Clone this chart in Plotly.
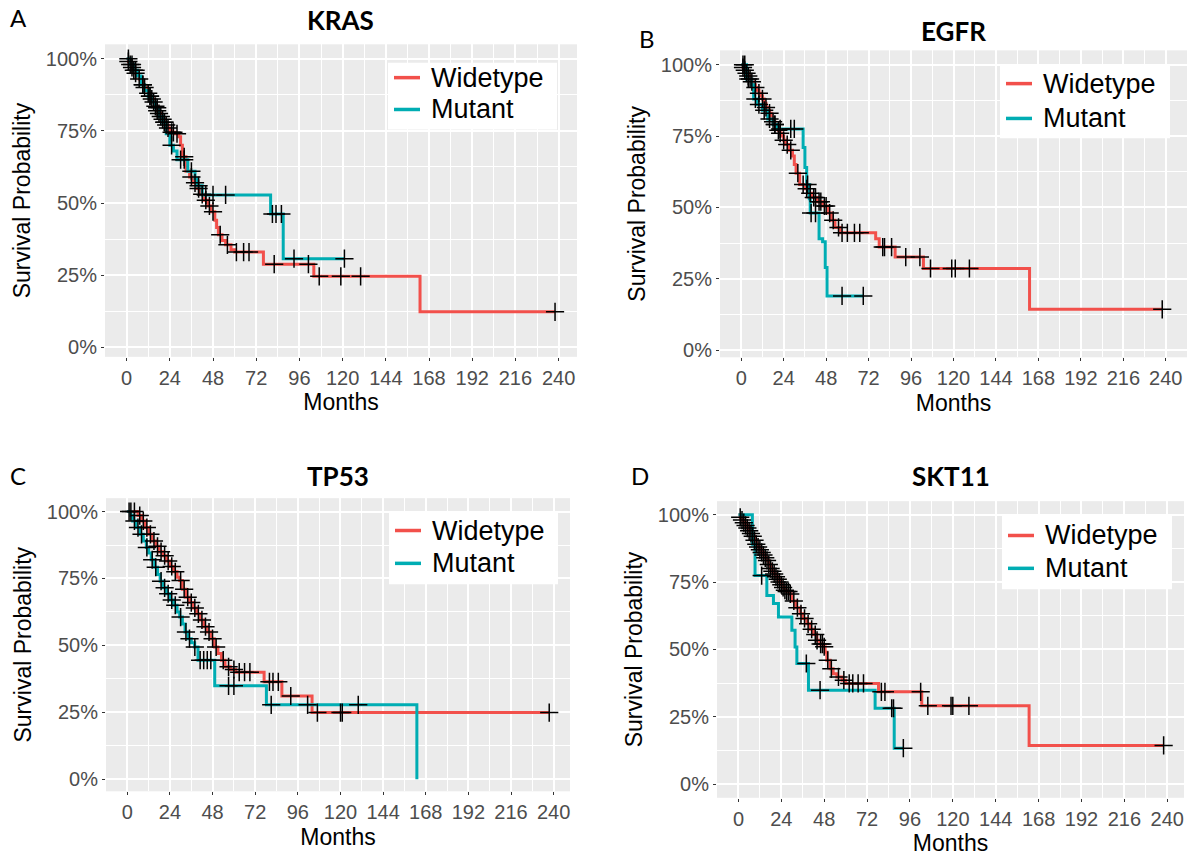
import plotly.graph_objects as go

W, H = 1189, 858

# ---------------- data ----------------
# event times (months) and survival after each event; censor times
kras_wt_t = [1, 2, 3, 4, 5, 6, 7, 8, 9, 10, 11, 12, 13, 14, 15, 16, 17, 18, 19, 20, 21, 22, 23, 24, 25, 27, 29, 30,
             31, 33, 35, 37, 39, 41, 43, 45, 47, 49, 50, 51, 53, 55, 58, 60, 76, 104, 163]
kras_wt_s = [0.99, 0.98, 0.97, 0.96, 0.95, 0.94, 0.93, 0.92, 0.91, 0.90, 0.89, 0.88, 0.87, 0.86, 0.85, 0.835, 0.82,
             0.81, 0.80, 0.79, 0.78, 0.77, 0.76, 0.75, 0.745, 0.74, 0.73, 0.70, 0.66, 0.61, 0.59, 0.57, 0.55, 0.53,
             0.51, 0.49, 0.47, 0.44, 0.415, 0.39, 0.37, 0.355, 0.338, 0.33, 0.288, 0.246, 0.123]
kras_wt_cens = [1, 2, 3, 4, 5, 7, 9, 10, 12, 13, 14, 15, 16, 17, 18, 19, 20, 21, 22, 23, 25, 26, 28, 32, 36, 38, 40,
                42, 44, 46, 48, 52, 56, 61, 65, 68, 82, 101, 107, 119, 130, 238]

kras_mut_t = [2, 4, 6, 8, 10, 12, 14, 16, 18, 20, 22, 24, 26, 28, 34, 38, 39, 42, 80, 87]
kras_mut_s = [0.98, 0.96, 0.94, 0.91, 0.89, 0.87, 0.85, 0.83, 0.80, 0.78, 0.74, 0.70, 0.68, 0.65, 0.61, 0.585, 0.56,
              0.528, 0.462, 0.307]
kras_mut_cens = [1, 3, 5, 9, 13, 17, 21, 25, 30, 32, 36, 40, 44, 48, 55, 81, 83, 86, 93, 121]

egfr_wt_t = [1, 2, 3, 4, 5, 6, 7, 8, 9, 10, 11, 12, 13, 14, 15, 16, 17, 18, 19, 20, 21, 22, 23, 24, 25, 27, 29, 30,
             31, 33, 36, 38, 40, 43, 46, 49, 51, 53, 56, 76, 78, 87, 103, 163]
egfr_wt_s = [0.99, 0.98, 0.97, 0.96, 0.95, 0.94, 0.93, 0.92, 0.91, 0.90, 0.89, 0.88, 0.865, 0.85, 0.84, 0.83, 0.815,
             0.80, 0.79, 0.78, 0.77, 0.76, 0.75, 0.735, 0.72, 0.70, 0.68, 0.65, 0.62, 0.58, 0.565, 0.55, 0.535, 0.52,
             0.505, 0.48, 0.455, 0.43, 0.411, 0.39, 0.361, 0.326, 0.286, 0.143]
egfr_wt_cens = [1, 2, 3, 4, 6, 8, 10, 12, 14, 16, 18, 19, 21, 22, 24, 26, 28, 32, 35, 37, 39, 41, 42, 44, 45, 47, 48,
                50, 52, 55, 57, 60, 64, 67, 80, 81, 85, 93, 101, 107, 119, 121, 129, 238]

egfr_mut_t = [3, 6, 7, 9, 12, 15, 18, 20, 35, 36, 37, 38.5, 39, 44, 46, 47.5, 48.5]
egfr_mut_s = [0.95, 0.93, 0.88, 0.86, 0.84, 0.81, 0.79, 0.775, 0.71, 0.64, 0.58, 0.53, 0.48, 0.39, 0.38, 0.29, 0.19]
egfr_mut_cens = [1, 2, 4, 5, 8, 10, 13, 16, 19, 22, 28, 30, 37.5, 39.5, 42, 57, 69]

tp53_wt_t = [6, 8, 10, 12, 14, 16, 18, 20, 22, 24, 26, 28, 29.5, 31, 33, 35, 37, 39, 41, 43, 45, 47, 49, 51, 53, 55,
             58, 61, 77, 87, 104]
tp53_wt_s = [0.985, 0.965, 0.94, 0.915, 0.89, 0.87, 0.85, 0.835, 0.815, 0.795, 0.775, 0.755, 0.742, 0.71, 0.68, 0.66,
             0.64, 0.618, 0.595, 0.57, 0.55, 0.525, 0.494, 0.47, 0.445, 0.42, 0.41, 0.40, 0.364, 0.311, 0.249]
tp53_wt_cens = [2, 4, 7, 9, 11, 13, 15, 17, 19, 21, 23, 25, 27, 30, 32, 34, 36, 38, 40, 42, 44, 46, 48, 50, 54, 57,
                60, 63, 66, 69, 80, 82, 85, 92, 107, 120, 121, 237.5]

tp53_mut_t = [2, 3, 5, 7, 9, 10.7, 12, 13.5, 15.4, 17, 18.5, 20, 22, 24, 26, 28, 29.5, 31, 32.5, 34.2, 36, 37.9, 39.8,
              49.2, 78.3, 163]
tp53_mut_s = [0.985, 0.965, 0.94, 0.915, 0.89, 0.866, 0.845, 0.82, 0.792, 0.765, 0.74, 0.715, 0.693, 0.67, 0.65,
              0.625, 0.606, 0.58, 0.55, 0.525, 0.51, 0.494, 0.445, 0.349, 0.278, 0.0]
tp53_mut_cens = [1, 4, 6, 8, 11, 14, 16, 19, 21, 23, 25, 27, 30, 33, 35, 38, 41, 43, 45, 47, 57, 60, 81, 101.5, 130]

skt11_wt_t = [1, 2, 3, 4, 5, 6, 7, 8, 9, 10, 11, 12, 13, 14, 15, 16, 17, 18, 19, 20, 21, 22, 23, 24, 25, 26, 27, 28.9,
              30, 32, 34.5, 36, 38.3, 40, 42, 43.9, 45.5, 47.6, 48.5, 49.5, 51.3, 53, 55.1, 58, 60, 78.4, 102.6, 162.7]
skt11_wt_s = [0.99, 0.98, 0.97, 0.96, 0.95, 0.94, 0.93, 0.92, 0.905, 0.89, 0.88, 0.87, 0.86, 0.85, 0.84, 0.83, 0.815,
              0.80, 0.79, 0.78, 0.77, 0.76, 0.75, 0.74, 0.73, 0.72, 0.715, 0.706, 0.68, 0.655, 0.632, 0.615, 0.595,
              0.575, 0.555, 0.534, 0.52, 0.51, 0.49, 0.46, 0.428, 0.41, 0.398, 0.386, 0.374, 0.343, 0.291, 0.144]
skt11_wt_cens = [1, 2, 3, 4, 5, 6, 7, 8, 9, 10, 11, 12, 13, 14, 15, 16, 17, 18, 19, 20, 21, 22, 23, 24, 25, 26, 27,
                 28, 29, 31, 33, 35, 37, 39, 41, 43, 44, 46, 47, 48, 50, 52, 56, 59, 62, 64, 67, 70, 80, 82, 102, 106,
                 119, 120, 129, 238]

skt11_mut_t = [7.8, 9.3, 15.9, 19.6, 22.4, 29.9, 31.7, 32.7, 39.2, 76.5, 87.2]
skt11_mut_s = [0.89, 0.774, 0.70, 0.67, 0.62, 0.571, 0.509, 0.448, 0.349, 0.282, 0.134]
skt11_mut_cens = [13, 38, 45.7, 85.8, 86.8, 92.3]

gene_titles = ["KRAS", "EGFR", "TP53", "SKT11"]
panel_letters = ["A", "B", "C", "D"]
group_names = ["Widetype", "Mutant"]
x_ticks = [0, 24, 48, 72, 96, 120, 144, 168, 192, 216, 240]
y_ticks = [0, 0.25, 0.5, 0.75, 1.0]
y_tick_labels = ["0%", "25%", "50%", "75%", "100%"]

data = [
    ((kras_wt_t, kras_wt_s, kras_wt_cens), (kras_mut_t, kras_mut_s, kras_mut_cens)),
    ((egfr_wt_t, egfr_wt_s, egfr_wt_cens), (egfr_mut_t, egfr_mut_s, egfr_mut_cens)),
    ((tp53_wt_t, tp53_wt_s, tp53_wt_cens), (tp53_mut_t, tp53_mut_s, tp53_mut_cens)),
    ((skt11_wt_t, skt11_wt_s, skt11_wt_cens), (skt11_mut_t, skt11_mut_s, skt11_mut_cens)),
]

# ---------------- layout geometry (pixels) ----------------
geo = [
    dict(l=105, r=577, t=44.5, b=358.5, ymin=-0.033, xmax=250.2, title_y=20, letter=(18, 18),
         box=(388, 63, 557, 130), rows=(78, 110)),
    dict(l=720, r=1187, t=50.6, b=359, ymin=-0.025, xmax=252, title_y=31, letter=(647, 39),
         box=(1000, 65, 1170, 139), rows=(84, 119)),
    dict(l=106, r=570, t=500.5, b=795, ymin=-0.045, xmax=249.2, title_y=478, letter=(18, 478),
         box=(389, 515, 558, 587), rows=(533, 566)),
    dict(l=717, r=1184, t=503.5, b=801.5, ymin=-0.05, xmax=249.4, title_y=478, letter=(640, 478),
         box=(1002, 518, 1172, 592), rows=(538, 571)),
]

RED = "#F2504B"
TEAL = "#00ADB3"
colors = [RED, TEAL]
FONT = "Liberation Sans, Arial, sans-serif"


def surv_at(times, survs, t):
    s = 1.0
    for ti, si in zip(times, survs):
        if ti <= t:
            s = si
    return s


def px(x):
    return x / W


def py(y):
    return 1 - y / H


fig = go.Figure()
annotations, shapes = [], []
layout = dict(width=W, height=H, margin=dict(l=0, r=0, t=0, b=0), paper_bgcolor="white",
              plot_bgcolor="#EBEBEB", font=dict(family=FONT), showlegend=False)

minor_x = [12 + 24 * i for i in range(10)]
minor_y = [0.125, 0.375, 0.625, 0.875]

for i, (pair, g) in enumerate(zip(data, geo)):
    k = "" if i == 0 else str(i + 1)
    xa, ya = "x" + k, "y" + k
    for j, (times, survs, cens) in enumerate(pair):
        end = max([times[-1]] + cens)
        xs = [0] + list(times) + [end]
        ys = [1.0] + list(survs) + [survs[-1]]
        fig.add_trace(go.Scatter(x=xs, y=ys, mode="lines", line=dict(color=colors[j], width=3, shape="hv"),
                                 name=group_names[j], xaxis=xa, yaxis=ya))
    for j, (times, survs, cens) in enumerate(pair):
        fig.add_trace(go.Scatter(x=cens, y=[surv_at(times, survs, c) for c in cens], mode="markers",
                                 marker=dict(symbol="cross-thin", size=13, line=dict(color="black", width=1.5)),
                                 xaxis=xa, yaxis=ya, hoverinfo="skip"))

    layout["xaxis" + k] = dict(domain=[px(g["l"]), px(g["r"])], range=[-12, g["xmax"]], anchor=ya,
                               tickvals=x_ticks, ticks="outside", ticklen=3, tickwidth=1, tickcolor="#333333",
                               tickfont=dict(size=20, color="#4D4D4D"), showgrid=True, gridcolor="white",
                               gridwidth=1.5, zeroline=False, showline=False,
                               minor=dict(tickvals=minor_x, showgrid=True, gridcolor="white", gridwidth=0.7),
                               title=dict(text="Months", font=dict(size=23, color="black"), standoff=6))
    layout["yaxis" + k] = dict(domain=[py(g["b"]), py(g["t"])], range=[g["ymin"], 1.05], anchor=xa,
                               tickvals=y_ticks, ticktext=y_tick_labels, ticks="outside", ticklen=3,
                               tickwidth=1, tickcolor="#333333", tickfont=dict(size=20, color="#4D4D4D"),
                               showgrid=True, gridcolor="white", gridwidth=1.5, zeroline=False, showline=False,
                               minor=dict(tickvals=minor_y, showgrid=True, gridcolor="white", gridwidth=0.7),
                               title=dict(text="Survival Probability", font=dict(size=23, color="black"),
                                          standoff=8))

    # legend box drawn by hand (white box, key lines and labels)
    bl, bt, br, bb = g["box"]
    shapes.append(dict(type="rect", xref="paper", yref="paper", x0=px(bl), x1=px(br), y0=py(bb), y1=py(bt),
                       fillcolor="white", line=dict(width=0), layer="above"))
    for j, ry in enumerate(g["rows"]):
        shapes.append(dict(type="line", xref="paper", yref="paper", x0=px(bl + 6), x1=px(bl + 32), y0=py(ry),
                           y1=py(ry), line=dict(color=colors[j], width=3.5), layer="above"))
        annotations.append(dict(text=group_names[j], x=px(bl + 41), y=py(ry), xref="paper", yref="paper",
                                showarrow=False, xanchor="left", yanchor="middle",
                                font=dict(family=FONT, size=27, color="black")))

    annotations.append(dict(text="<b>%s</b>" % gene_titles[i], x=px((g["l"] + g["r"]) / 2), y=py(g["title_y"]),
                            xref="paper", yref="paper", showarrow=False, xanchor="center", yanchor="middle",
                            font=dict(family="Lato, sans-serif", size=26, color="black")))
    annotations.append(dict(text=panel_letters[i], x=px(g["letter"][0]), y=py(g["letter"][1]), xref="paper",
                            yref="paper", showarrow=False, xanchor="center", yanchor="middle",
                            font=dict(family="Lato, sans-serif", size=24, color="black")))

layout["annotations"] = annotations
layout["shapes"] = shapes
fig.update_layout(**layout)
fig.write_html("out.html")
